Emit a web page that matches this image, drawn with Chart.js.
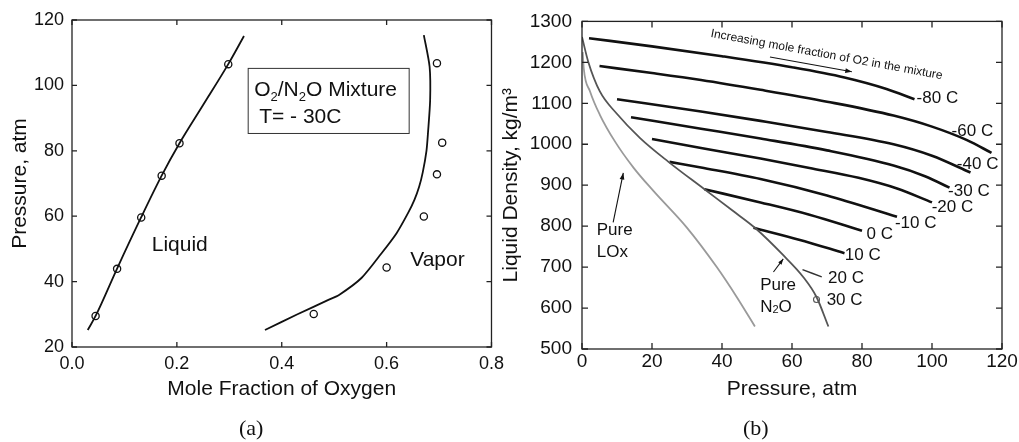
<!DOCTYPE html>
<html>
<head>
<meta charset="utf-8">
<script src="https://cdn.jsdelivr.net/npm/chart.js@4.4.0/dist/chart.umd.min.js"></script>
<style>
  body { margin: 0; background: #fff; width: 1019px; height: 442px; overflow: hidden; position: relative; }
  #wrapA { position: absolute; left: 0; top: 0; width: 510px; height: 442px; }
  #wrapB { position: absolute; left: 496px; top: 0; width: 523px; height: 442px; }
  .cap { position: absolute; top: 416px; line-height: 24px; font-family: 'Liberation Serif', 'Times New Roman', serif; font-size: 22px; color: #111; }
</style>
</head>
<body>
<div id="wrapA"><canvas id="chartA" width="510" height="442"></canvas></div>
<div id="wrapB"><canvas id="chartB" width="523" height="442"></canvas></div>
<div class="cap" style="left:239px">(a)</div>
<div class="cap" style="left:743px">(b)</div>
<script>
// (a) O2/N2O mixture, T = -30 C : mole fraction of O2 vs pressure (atm)
const liqLineX = [0.030, 0.045, 0.086, 0.132, 0.171, 0.205, 0.250, 0.298, 0.328];
const liqLineP = [25.2, 29.5, 44.0, 59.7, 72.4, 82.3, 94.0, 106.5, 115.1];
const liqPtsX = [0.045, 0.086, 0.132, 0.171, 0.205, 0.298];
const liqPtsP = [29.5, 43.9, 59.6, 72.4, 82.3, 106.5];

const vapLineX = [0.368, 0.430, 0.489, 0.510, 0.552, 0.590, 0.619, 0.641, 0.653, 0.662, 0.669, 0.676, 0.679, 0.683, 0.682, 0.671];
const vapLineP = [25.2, 30.0, 34.4, 36.0, 41.1, 48.6, 54.8, 61.0, 65.0, 69.0, 73.5, 80.0, 85.7, 95.5, 105.7, 115.4];
const vapPtsX = [0.461, 0.600, 0.671, 0.696, 0.706, 0.696];
const vapPtsP = [30.1, 44.3, 59.9, 72.8, 82.5, 106.8];

const xTicksA = [0, 0.8, 0.2];   // min, max, step
const yTicksA = [20, 120, 20];

// (b) liquid density (kg/m3) vs pressure (atm), isotherms
const p_m80 = [2, 20, 40, 60, 75, 87, 95];
const rho_m80 = [1259, 1239, 1215, 1188, 1163, 1135, 1110];
const p_m60 = [5, 20, 34, 51, 70, 89, 100, 110, 117];
const rho_m60 = [1191, 1174, 1157, 1133, 1104, 1070, 1043, 1010, 979];
const p_m40 = [10, 34, 51, 70, 89, 100, 111];
const rho_m40 = [1110, 1080, 1057, 1030, 1000, 972, 931];
const p_m30 = [14, 34, 51, 70, 89, 98, 105];
const rho_m30 = [1066, 1038, 1014, 985, 948, 922, 894];
const p_m20 = [20, 34, 51, 65, 79, 90, 100];
const rho_m20 = [1013, 991, 965, 942, 918, 892, 858];
const p_m10 = [25, 34, 51, 70, 90];
const rho_m10 = [957, 943, 915, 875, 823];
const p_0 = [35, 51, 65, 80];
const rho_0 = [890, 858, 828, 789];
const p_10 = [49, 62, 75];
const rho_10 = [796, 767, 734];
const p_20 = [63, 68.5];
const rho_20 = [694, 676];
const p_30 = [67];
const rho_30 = [621];

const p_n2o = [0, 1.8, 5.1, 9.9, 16.6, 24.7, 35, 43, 49.4, 57.5, 63.2, 67, 70.4];
const rho_n2o = [1262, 1201, 1129, 1075, 1015, 957, 890, 838, 796, 729, 676, 627, 555];
const p_lox = [0.2, 0.5, 2.3, 5.1, 9.4, 14.7, 20.4, 29.9, 38.5, 44.2, 49.4];
const rho_lox = [1225, 1185, 1129, 1072, 1007, 943, 886, 797, 700, 627, 555];

const isoNames = ['-80 C', '-60 C', '-40 C', '-30 C', '-20 C', '-10 C', '0 C', '10 C', '20 C', '30 C'];

const xTicksB = [0, 120, 20];
const yTicksB = [500, 1300, 100];

// label anchors (data coords) for the isotherm names
const isoTagAt = [[95.6, 1112], [105.6, 1032], [107.1, 951], [104.6, 886], [99.9, 846],
                  [89.4, 807], [81.3, 781], [75.1, 729], [70.3, 672], [69.9, 620]];

const FONT = "'Liberation Sans', Arial, Helvetica, sans-serif";
const INK = '#111';

function xy(xs, ys) {
    return xs.map((x, i) => ({x: x, y: ys[i]}));
}

function line(xs, ys, color, width, mono) {
    const ds = {data: xy(xs, ys), showLine: true, borderColor: color, borderWidth: width,
                pointRadius: 0, tension: 0.25, fill: false};
    if (mono) ds.cubicInterpolationMode = 'monotone';
    return ds;
}

function frameAndTicks(chart, len) {
    const {ctx, chartArea: a, scales} = chart;
    ctx.save();
    ctx.strokeStyle = '#222';
    ctx.lineWidth = 1.3;
    ctx.strokeRect(a.left, a.top, a.right - a.left, a.bottom - a.top);
    ctx.beginPath();
    scales.x.ticks.forEach(t => {
        const px = scales.x.getPixelForValue(t.value);
        ctx.moveTo(px, a.bottom); ctx.lineTo(px, a.bottom - len);
        ctx.moveTo(px, a.top); ctx.lineTo(px, a.top + len);
    });
    scales.y.ticks.forEach(t => {
        const py = scales.y.getPixelForValue(t.value);
        ctx.moveTo(a.left, py); ctx.lineTo(a.left + len, py);
        ctx.moveTo(a.right, py); ctx.lineTo(a.right - len, py);
    });
    ctx.stroke();
    ctx.restore();
}

// text with subscripts: parts = [[text, isSub], ...]
function rich(ctx, parts, x, y, size) {
    let cx = x;
    parts.forEach(([s, sub]) => {
        ctx.font = (sub ? Math.round(size * 0.62) : size) + 'px ' + FONT;
        ctx.fillText(s, cx, sub ? y + size * 0.2 : y);
        cx += ctx.measureText(s).width;
    });
}

function arrow(ctx, x1, y1, x2, y2, head) {
    const ang = Math.atan2(y2 - y1, x2 - x1);
    ctx.beginPath(); ctx.moveTo(x1, y1); ctx.lineTo(x2, y2); ctx.stroke();
    ctx.beginPath();
    ctx.moveTo(x2, y2);
    ctx.lineTo(x2 - head * Math.cos(ang - 0.35), y2 - head * Math.sin(ang - 0.35));
    ctx.lineTo(x2 - head * Math.cos(ang + 0.35), y2 - head * Math.sin(ang + 0.35));
    ctx.closePath(); ctx.fill();
}

function scaleOpts(range, size, pad, title, titlePad, fit, isX, fmt) {
    return {
        type: 'linear', min: range[0], max: range[1],
        ticks: {stepSize: range[2], padding: pad, color: INK, font: {family: FONT, size: size},
                callback: fmt},
        grid: {display: false, drawTicks: false},
        border: {display: false},
        title: {display: true, text: title, color: INK, font: {family: FONT, size: 21}, padding: titlePad},
        afterFit: s => { if (isX) s.height = fit; else s.width = fit; }
    };
}

const decoA = {
    id: 'decoA',
    afterDraw(chart) {
        const {ctx, scales: {x, y}} = chart;
        frameAndTicks(chart, 5);
        ctx.save();
        ctx.fillStyle = INK;
        ctx.textBaseline = 'middle';
        ctx.font = '21px ' + FONT;
        ctx.fillText('Liquid', x.getPixelForValue(0.152), y.getPixelForValue(51.2));
        ctx.fillText('Vapor', x.getPixelForValue(0.645), y.getPixelForValue(46.6));
        // note box
        const bx = x.getPixelForValue(0.336), by = y.getPixelForValue(105.2);
        const bw = x.getPixelForValue(0.643) - bx, bh = y.getPixelForValue(85.3) - by;
        ctx.strokeStyle = '#333';
        ctx.lineWidth = 1;
        ctx.strokeRect(bx, by, bw, bh);
        ctx.textBaseline = 'alphabetic';
        rich(ctx, [['O', 0], ['2', 1], ['/N', 0], ['2', 1], ['O Mixture', 0]], bx + 6, by + 28, 21);
        rich(ctx, [['T= - 30C', 0]], bx + 11, by + 55, 21);
        ctx.restore();
    }
};

const decoB = {
    id: 'decoB',
    afterDraw(chart) {
        const {ctx, scales: {x, y}} = chart;
        frameAndTicks(chart, 6);
        ctx.save();
        ctx.fillStyle = INK;
        ctx.strokeStyle = INK;
        ctx.textBaseline = 'middle';
        ctx.font = '17px ' + FONT;
        isoNames.forEach((n, i) => {
            ctx.fillText(n, x.getPixelForValue(isoTagAt[i][0]), y.getPixelForValue(isoTagAt[i][1]));
        });
        ctx.fillText('Pure', x.getPixelForValue(4.2), y.getPixelForValue(789));
        ctx.fillText('LOx', x.getPixelForValue(4.2), y.getPixelForValue(737));
        ctx.fillText('Pure', x.getPixelForValue(50.9), y.getPixelForValue(656));
        rich(ctx, [['N', 0], ['2', 1], ['O', 0]], x.getPixelForValue(50.9), y.getPixelForValue(603), 17);
        ctx.lineWidth = 1.1;
        arrow(ctx, x.getPixelForValue(8.9), y.getPixelForValue(809), x.getPixelForValue(11.8), y.getPixelForValue(930), 7);
        arrow(ctx, x.getPixelForValue(54.7), y.getPixelForValue(688), x.getPixelForValue(57.5), y.getPixelForValue(720), 6);
        arrow(ctx, x.getPixelForValue(53.7), y.getPixelForValue(1213), x.getPixelForValue(77.1), y.getPixelForValue(1177), 7);
        // rotated note
        ctx.translate(x.getPixelForValue(69.9), y.getPixelForValue(1218.5));
        ctx.rotate(10.4 * Math.PI / 180);
        ctx.textAlign = 'center';
        ctx.font = '12px ' + FONT;
        ctx.fillText('Increasing mole fraction of O2 in the mixture', 0, 0);
        ctx.restore();
    }
};

new Chart(document.getElementById('chartA'), {
    type: 'scatter',
    data: {
        datasets: [
            line(liqLineX, liqLineP, INK, 1.8, true),
            line(vapLineX, vapLineP, INK, 1.8, false),
            {data: xy(liqPtsX, liqPtsP), pointRadius: 3.6, pointBorderColor: INK,
             pointBackgroundColor: 'rgba(0,0,0,0)', pointBorderWidth: 1.3},
            {data: xy(vapPtsX, vapPtsP), pointRadius: 3.6, pointBorderColor: INK,
             pointBackgroundColor: 'rgba(0,0,0,0)', pointBorderWidth: 1.3}
        ]
    },
    options: {
        responsive: false,
        animation: false,
        layout: {padding: {top: 20, right: 16, left: 0, bottom: 0}},
        plugins: {legend: {display: false}, tooltip: {enabled: false}},
        scales: {
            x: scaleOpts(xTicksA, 18, 6, 'Mole Fraction of Oxygen', {top: 0, bottom: 40}, 95, true, v => v.toFixed(1)),
            y: scaleOpts(yTicksA, 18, 8, 'Pressure, atm', {top: 8, bottom: 0}, 72, false, v => v)
        }
    },
    plugins: [decoA]
});

new Chart(document.getElementById('chartB'), {
    type: 'scatter',
    data: {
        datasets: [
            line(p_lox, rho_lox, '#9a9a9a', 1.8, true),
            line(p_n2o, rho_n2o, '#555', 1.8, true),
            line(p_m80, rho_m80, INK, 2.6, true),
            line(p_m60, rho_m60, INK, 2.6, true),
            line(p_m40, rho_m40, INK, 2.6, true),
            line(p_m30, rho_m30, INK, 2.6, true),
            line(p_m20, rho_m20, INK, 2.6, true),
            line(p_m10, rho_m10, INK, 2.6, true),
            line(p_0, rho_0, INK, 2.6, true),
            line(p_10, rho_10, INK, 2.6, true),
            line(p_20, rho_20, '#333', 1.4, true),
            {data: xy(p_30, rho_30), pointRadius: 3, pointBorderColor: '#555',
             pointBackgroundColor: 'rgba(0,0,0,0)', pointBorderWidth: 1.1}
        ]
    },
    options: {
        responsive: false,
        animation: false,
        layout: {padding: {top: 19, right: 17, left: 0, bottom: 0}},
        plugins: {legend: {display: false}, tooltip: {enabled: false}},
        scales: {
            x: scaleOpts(xTicksB, 19, 1, 'Pressure, atm', {top: 0, bottom: 40}, 93, true, v => v),
            y: scaleOpts(yTicksB, 19, 10, 'Liquid Density, kg/m\u00b3', {top: 3, bottom: 0}, 86, false, v => v)
        }
    },
    plugins: [decoB]
});
</script>
</body>
</html>
